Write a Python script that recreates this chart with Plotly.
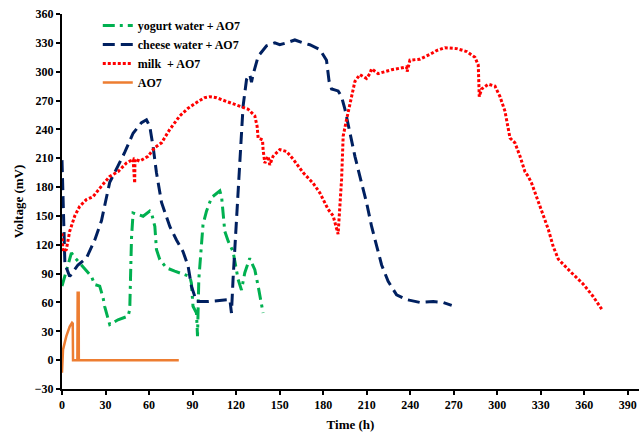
import plotly.graph_objects as go

# Time (h) and voltage (mV) readings for each medium
ao7_t = [0, 0.7, 3, 5.3, 6.9, 7.4, 7.6, 10.6, 10.8, 11.5, 11.6, 80.5]
ao7_v = [-13, 11, 25, 35, 38.8, 38, 0, 0, 70, 70, 0, 0]

yogurt_t = [0, 3, 6.5, 8.8, 11, 15.7, 20.3, 22.6, 26, 28.3, 29.4, 32.9, 38.6, 45.5,
            46.7, 47.9, 49, 52.4, 55.9, 60.5, 61.7, 64, 65.1, 67.4, 72, 77.7, 84.6,
            88.1, 89.2, 90.3, 92.7, 93.4, 94.3, 96.1, 97.2, 99.6, 103, 108.8, 110,
            112.2, 114.5, 117.9, 121.4, 123.7, 126, 129.4, 132.9, 135.2, 138.6]
yogurt_v = [77, 92.5, 111.6, 106.7, 103, 95, 87, 78.6, 77, 65, 56, 37, 42, 45.7,
            52.6, 127, 153, 151.4, 149.7, 155, 153, 139, 115, 104.6, 96, 92.5, 89,
            87, 80, 56, 49, 25, 84, 122, 141, 155, 169, 176, 170,
            134, 124, 113, 84, 73, 91, 106, 94, 77, 49]

cheese_t = [0, 1, 2, 5.3, 11, 16.8, 22.6, 27.2, 32.9, 38.6, 43.2, 49, 54.8, 58.2,
            60.5, 62.8, 65.1, 68.6, 74.3, 78.9, 83.4, 86.9, 89.2, 92.7, 100.7, 115.7,
            116.8, 117.9, 120.3, 122.6, 124.8, 127.2, 129.4, 130.6, 131.7, 135.2, 141,
            146.7, 150.1, 154.8, 160.5, 166.2, 170.8, 177.7, 182.3, 184.1, 185.8,
            190.3, 192.7, 195, 198.4, 201.9, 206.5, 209.9, 213.4, 216.8, 220.3, 224.8,
            230.6, 237.5, 246.7, 255.9, 262.8, 268.6]
cheese_v = [208, 150, 100, 87, 99, 106, 125, 145, 185, 202, 216, 236, 247, 250,
            243, 222, 195, 164, 139, 125, 113, 98, 77, 61, 61, 63,
            49, 84, 146, 208, 264, 292, 297, 289, 297, 316, 327,
            330, 328, 330, 333, 330, 328, 323, 312, 290, 282,
            280, 274, 261, 236, 212, 184, 164, 139, 118, 99, 82,
            68, 63, 60, 61, 60, 57]

milk_t = [0, 0.7, 3, 5.3, 8.8, 12.2, 16.8, 21.4, 27.2, 32.9, 38.6, 44.4, 49, 50.1,
          50.3, 53.6, 59.3, 63.9, 68.6, 74.3, 81.2, 86.9, 93.8, 98.4, 101.9, 106.5,
          113.4, 122.6, 128.3, 132.9, 134.5, 135.2, 138.2, 138.6, 139.8, 142.1, 143.2,
          145.5, 150.1, 154.8, 159.3, 166.2, 173.1, 177.7, 183.4, 186.9, 190.3, 192.7,
          193.8, 196.1, 199.6, 201.9, 205.3, 209.9, 212.2, 213.4, 217.9, 227.2, 237.5,
          237.9, 239.8, 246.7, 253.6, 258.2, 263.9, 272, 278.9, 284.6, 286.9, 287.6,
          289.2, 293.8, 298.4, 301.9, 305.3, 307.6, 308.8, 312.2, 315.7, 319.1, 321.4,
          323.7, 327.2, 330.6, 335.2, 338.6, 342.1, 350.1, 359.3, 366.2, 372]
milk_v = [132, 113, 115, 134, 150, 160, 167, 170, 181, 191, 196, 205, 209, 184,
          209, 207, 212, 221, 226, 240, 254, 262, 269, 273, 274, 273,
          269, 264, 261, 254, 243, 231, 229, 219, 205, 212, 203,
          212, 219, 217, 209, 195, 184, 174, 157, 150, 131, 188,
          233, 250, 274, 290, 297, 293, 298, 303, 298, 302, 305,
          300, 312, 313, 318, 322, 325, 324, 321, 315, 307, 274,
          282, 287, 285, 274, 259, 243, 231, 226, 212, 196, 191,
          184, 170, 155, 136, 118, 105, 92.5, 79, 66, 53]

x_ticks = list(range(0, 391, 30))
y_ticks = list(range(-30, 361, 30))

font_family = "Liberation Serif"

fig = go.Figure()
fig.add_trace(go.Scatter(x=yogurt_t, y=yogurt_v, mode="lines", name="yogurt water + AO7",
                         line=dict(color="#00B050", width=3, dash="12px,5px,3px,5px")))
fig.add_trace(go.Scatter(x=cheese_t, y=cheese_v, mode="lines", name="cheese water + AO7",
                         line=dict(color="#002060", width=3, dash="12px,6px")))
fig.add_trace(go.Scatter(x=milk_t, y=milk_v, mode="lines", name="milk  + AO7",
                         line=dict(color="#FF0000", width=3, dash="3px,2px")))
fig.add_trace(go.Scatter(x=ao7_t, y=ao7_v, mode="lines", name="AO7",
                         line=dict(color="#ED7D31", width=2.5)))

axis_common = dict(
    showgrid=False, zeroline=False, showline=True, linecolor="black", linewidth=2,
    ticks="outside", ticklen=4, tickwidth=1.5, tickcolor="black",
    tickfont=dict(family=font_family, size=12, color="black", weight="bold"),
)

fig.update_layout(
    width=639, height=436,
    margin=dict(l=62, r=0, t=14, b=47),
    plot_bgcolor="white", paper_bgcolor="white",
    font=dict(family=font_family, color="black"),
    xaxis=dict(range=[0, 397.7], tickvals=x_ticks, automargin=False,
               title=dict(text="Time (h)", standoff=8,
                          font=dict(family=font_family, size=13, color="black", weight="bold")),
               **axis_common),
    yaxis=dict(range=[-30, 360], tickvals=y_ticks, automargin=False,
               title=dict(text="Voltage (mV)", standoff=8,
                          font=dict(family=font_family, size=13, color="black", weight="bold")),
               **axis_common),
    legend=dict(x=0.062, y=1.008, xanchor="left", yanchor="top",
                bgcolor="rgba(0,0,0,0)", itemwidth=30, tracegroupgap=0,
                font=dict(family=font_family, size=12, color="black", weight="bold")),
)

fig.write_html("out.html")
